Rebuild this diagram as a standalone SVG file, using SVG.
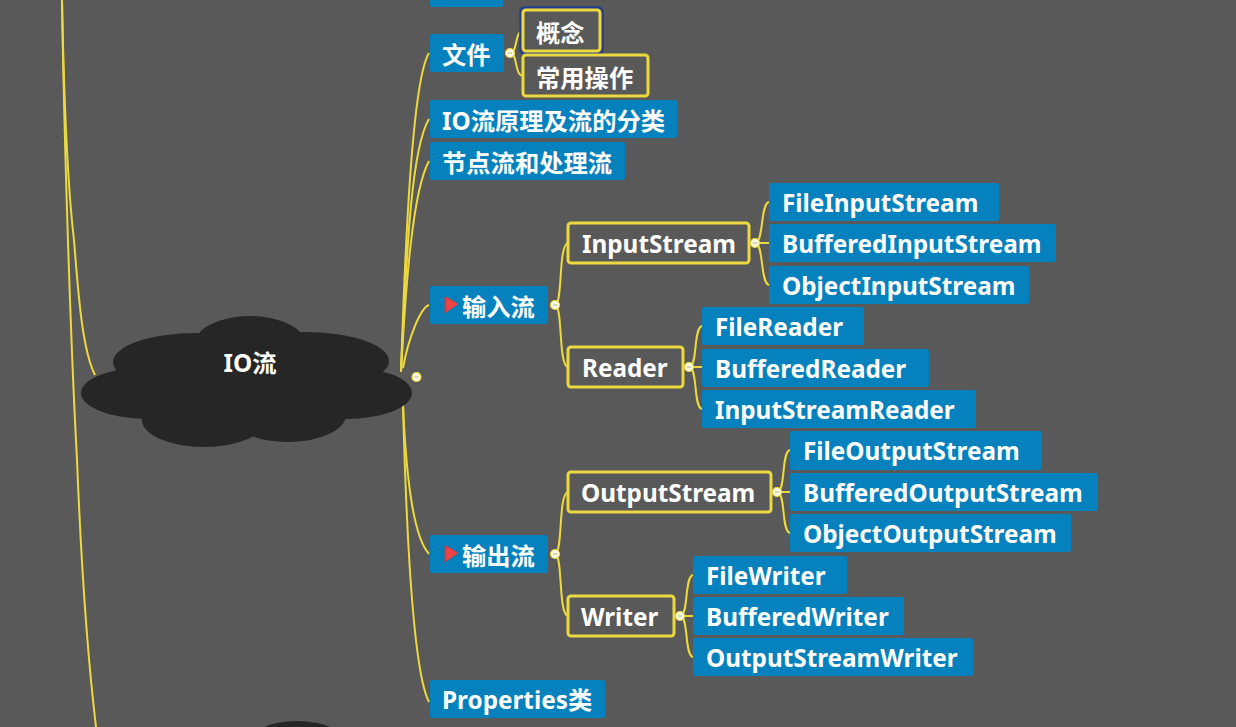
<svg xmlns="http://www.w3.org/2000/svg" width="1236" height="727" viewBox="0 0 1236 727">
<style>
text{font-family:"Noto Sans","Noto Sans CJK SC",sans-serif;font-weight:700;font-size:24.3px;fill:#fff}
.b{fill:#0581bd}
.y{fill:#595959;stroke:#ecd93f;stroke-width:3}
.c{fill:none;stroke:#ecd93f;stroke-width:2}
.k{fill:#fbf8e0;stroke:#ecd93f;stroke-width:1.2}
.m{stroke:#b5b48f;stroke-width:1}
.cl{fill:#262626}
.f{fill:#ef4444;stroke:#d93a3a;stroke-width:.8}
</style>
<defs>
<path id="flag" d="M445 297V314M446 297L458 304L446 312Z"/>
<g id="knob"><circle class="k" r="4.500"/><path class="m" d="M-2 0H2"/></g>
</defs>
<rect width="1236" height="727" fill="#595959"/>
<g id="connectors">
<path class="c" d="M62 0C64 130 70 330 77 460C81 560 88 660 96 727"/>
<path class="c" d="M62 0C64 100 68 190 74 240C78 290 82 350 95 375"/>
<path class="c" d="M401 372C405 250 412 80 429 53"/>
<path class="c" d="M401 372C406 270 410 150 429 119"/>
<path class="c" d="M401 372C406 280 413 190 429 161"/>
<path class="c" d="M403 368C408 340 420 308 429 305"/>
<path class="c" d="M403 405C406 470 412 535 429 554"/>
<path class="c" d="M403 405C406 520 412 670 429 702"/>
<path class="c" d="M510 53C518 53 514 32 523 31M510 53C518 53 514 75 523 76"/>
<path class="c" d="M555 305C563 305 558 245 568 243M555 305C563 305 558 365 568 367"/>
<path class="c" d="M755 243C764 243 760 204 769 202M755 243H769M755 243C764 243 760 283 769 285"/>
<path class="c" d="M689 367C698 367 693 328 702 326M689 367H702M689 367C698 367 693 407 702 409"/>
<path class="c" d="M555 554C563 554 558 494 568 492M555 554C563 554 558 614 568 616"/>
<path class="c" d="M777 492C786 492 781 452 790 450M777 492H790M777 492C786 492 781 531 790 533"/>
<path class="c" d="M680 616C689 616 684 577 693 575M680 616H693M680 616C689 616 684 655 693 657"/>
<use href="#knob" x="416.500" y="377"/>
<use href="#knob" x="510" y="53"/>
<use href="#knob" x="555" y="305"/>
<use href="#knob" x="755" y="243"/>
<use href="#knob" x="689" y="367"/>
<use href="#knob" x="555" y="554"/>
<use href="#knob" x="777" y="492"/>
<use href="#knob" x="680" y="616"/>
</g>
<g id="io-cloud" class="cl">
<ellipse cx="250" cy="345" rx="56" ry="29"/>
<ellipse cx="196" cy="362" rx="83" ry="29"/>
<ellipse cx="305" cy="361" rx="84" ry="29"/>
<ellipse cx="150" cy="393" rx="69" ry="26"/>
<ellipse cx="345" cy="393" rx="67" ry="26"/>
<ellipse cx="204" cy="420" rx="62" ry="27"/>
<ellipse cx="288" cy="415" rx="58" ry="27"/>
<rect x="170" y="360" width="150" height="60"/>
<text x="223.500" y="372">IO流</text>
</g>
<g id="bottom-cloud"><ellipse class="cl" cx="297" cy="745" rx="50" ry="24"/></g>
<g id="clipped-top"><rect class="b" x="430" y="-30" width="73" height="37" rx="2"/></g>
<g id="file"><rect class="b" x="430" y="34" width="74" height="38" rx="2"/><text x="442" y="64">文件</text></g>
<g id="concept"><rect x="520.500" y="7.500" width="82" height="46" rx="4" fill="none" stroke="#22408f" stroke-width="2.500"/><rect class="y" x="523" y="10" width="77" height="41" rx="3"/><text x="536" y="42">概念</text></g>
<g id="ops"><rect class="y" x="523" y="55" width="125" height="41" rx="3"/><text x="536" y="87">常用操作</text></g>
<g id="principle"><rect class="b" x="430" y="100" width="247" height="38" rx="2"/><text x="442" y="130">IO流原理及流的分类</text></g>
<g id="node-stream"><rect class="b" x="430" y="142" width="195" height="38" rx="2"/><text x="442" y="172">节点流和处理流</text></g>
<g id="input"><rect class="b" x="430" y="286" width="118" height="38" rx="2"/><use href="#flag" class="f"/><text x="462" y="316">输入流</text></g>
<g id="output"><rect class="b" x="430" y="535" width="118" height="38" rx="2"/><use href="#flag" y="249" class="f"/><text x="462" y="565">输出流</text></g>
<g id="props"><rect class="b" x="430" y="680" width="175" height="38" rx="2"/><text x="442" y="709">Properties类</text></g>
<g id="inputstream"><rect class="y" x="568" y="223" width="181" height="40" rx="3"/><text x="582" y="253">InputStream</text></g>
<g id="reader"><rect class="y" x="568" y="347" width="115" height="40" rx="3"/><text x="582" y="377">Reader</text></g>
<g id="outputstream"><rect class="y" x="568" y="472" width="203" height="40" rx="3"/><text x="581" y="502">OutputStream</text></g>
<g id="writer"><rect class="y" x="568" y="596" width="106" height="40" rx="3"/><text x="581" y="626">Writer</text></g>
<g id="fis"><rect class="b" x="769" y="183" width="230" height="38" rx="2"/><text x="782" y="212">FileInputStream</text></g>
<g id="bis"><rect class="b" x="769" y="224" width="287" height="38" rx="2"/><text x="782" y="253">BufferedInputStream</text></g>
<g id="ois"><rect class="b" x="769" y="266" width="260" height="38" rx="2"/><text x="782" y="295">ObjectInputStream</text></g>
<g id="fr"><rect class="b" x="702" y="307" width="162" height="38" rx="2"/><text x="715" y="336">FileReader</text></g>
<g id="br"><rect class="b" x="702" y="349" width="227" height="38" rx="2"/><text x="715" y="378">BufferedReader</text></g>
<g id="isr"><rect class="b" x="702" y="390" width="274" height="38" rx="2"/><text x="715" y="419">InputStreamReader</text></g>
<g id="fos"><rect class="b" x="790" y="431" width="252" height="39" rx="2"/><text x="803" y="460">FileOutputStream</text></g>
<g id="bos"><rect class="b" x="790" y="473" width="308" height="38" rx="2"/><text x="803" y="502">BufferedOutputStream</text></g>
<g id="oos"><rect class="b" x="790" y="514" width="281" height="38" rx="2"/><text x="803" y="543">ObjectOutputStream</text></g>
<g id="fw"><rect class="b" x="693" y="556" width="154" height="38" rx="2"/><text x="706" y="585">FileWriter</text></g>
<g id="bw"><rect class="b" x="693" y="597" width="211" height="38" rx="2"/><text x="706" y="626">BufferedWriter</text></g>
<g id="osw"><rect class="b" x="693" y="638" width="280" height="38" rx="2"/><text x="706" y="667">OutputStreamWriter</text></g>
</svg>
